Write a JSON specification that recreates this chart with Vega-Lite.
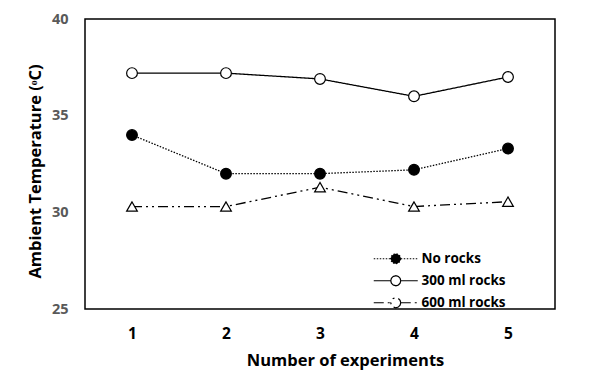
{
  "$schema": "https://vega.github.io/schema/vega-lite/v6.json",
  "width": 470,
  "height": 290,
  "autosize": {"type": "none"},
  "padding": {"left": 85, "top": 19, "right": 37, "bottom": 65},
  "background": "white",
  "config": {
    "font": "Open Sans",
    "view": {"stroke": "black", "strokeWidth": 1.5},
    "axis": {"grid": false, "ticks": false, "tickSize": 0, "domain": false, "labelFont": "Open Sans", "labelFontWeight": "bold", "titleFont": "Open Sans", "titleFontWeight": "bold", "titleColor": "black"}
  },
  "data": {
    "values": [
      {"series": "No rocks", "exp": "1", "temp": 34.0},
      {"series": "No rocks", "exp": "2", "temp": 32.0},
      {"series": "No rocks", "exp": "3", "temp": 32.0},
      {"series": "No rocks", "exp": "4", "temp": 32.2},
      {"series": "No rocks", "exp": "5", "temp": 33.3},
      {"series": "300 ml rocks", "exp": "1", "temp": 37.2},
      {"series": "300 ml rocks", "exp": "2", "temp": 37.2},
      {"series": "300 ml rocks", "exp": "3", "temp": 36.9},
      {"series": "300 ml rocks", "exp": "4", "temp": 36.0},
      {"series": "300 ml rocks", "exp": "5", "temp": 37.0},
      {"series": "600 ml rocks", "exp": "1", "temp": 30.3},
      {"series": "600 ml rocks", "exp": "2", "temp": 30.3},
      {"series": "600 ml rocks", "exp": "3", "temp": 31.3},
      {"series": "600 ml rocks", "exp": "4", "temp": 30.3},
      {"series": "600 ml rocks", "exp": "5", "temp": 30.55}
    ]
  },
  "encoding": {
    "x": {
      "field": "exp", "type": "ordinal",
      "scale": {"type": "point", "padding": 0.5},
      "axis": {"title": "Number of experiments", "labelAngle": 0, "labelFontSize": 15.5, "labelColor": "black", "labelPadding": 17, "titleFontSize": 16.5, "titleX": 260, "titleY": 51, "titleBaseline": "middle", "titleAlign": "center"}
    },
    "y": {
      "field": "temp", "type": "quantitative",
      "scale": {"domain": [25, 40]},
      "axis": {"title": "Ambient Temperature (ᵒC)", "values": [25, 30, 35, 40], "labelFontSize": 14.5, "labelColor": "#595959", "labelPadding": 17, "titleFontSize": 16.5, "titleX": -50, "titleY": 152, "titleAngle": -90, "titleBaseline": "middle", "titleAlign": "center"}
    }
  },
  "layer": [
    {
      "mark": {"type": "line", "color": "black", "strokeWidth": 1.3},
      "encoding": {
        "strokeDash": {
          "field": "series", "type": "nominal",
          "scale": {"domain": ["No rocks", "300 ml rocks", "600 ml rocks"], "range": [[1.5, 1.5], [1, 0], [10, 4, 2, 4, 2, 4]]},
          "legend": {
            "title": null,
            "orient": "none",
            "legendX": 304,
            "legendY": 233,
            "padding": 0,
            "symbolSize": 121,
            "symbolType": "M-4,0L-0.91,0M0.91,0L4,0M0.91,0L0.788,0.455L0.455,0.788L0,0.91L-0.455,0.788L-0.788,0.455L-0.91,0L-0.788,-0.455L-0.455,-0.788L0,-0.91L0.455,-0.788L0.788,-0.455Z",
            "symbolStrokeColor": "black",
            "symbolStrokeWidth": 1.2,
            "labelFont": "Open Sans",
            "labelFontSize": 13.5,
            "labelFontWeight": "bold",
            "labelColor": "black",
            "labelOffset": 19,
            "rowPadding": 6
          }
        }
      }
    },
    {
      "mark": {"type": "point", "filled": true, "stroke": "black", "strokeWidth": 1.2, "opacity": 1, "fillOpacity": 1},
      "encoding": {
        "shape": {"condition": {"test": "datum.series === '600 ml rocks'", "value": "triangle-up"}, "value": "circle"},
        "fill": {
          "field": "series", "type": "nominal",
          "scale": {"domain": ["No rocks", "300 ml rocks", "600 ml rocks"], "range": ["black", "white", "white"]}
        },
        "size": {"value": 115}
      }
    }
  ]
}
